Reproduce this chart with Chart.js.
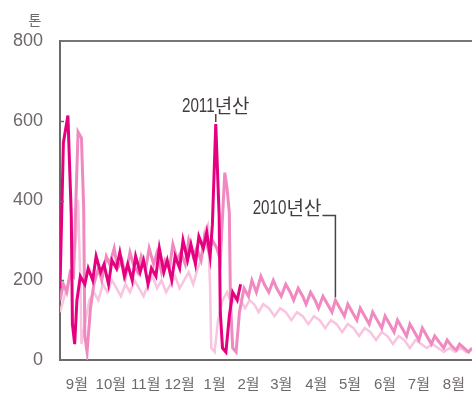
<!DOCTYPE html>
<html lang="ko">
<head>
<meta charset="utf-8">
<title>산지별 출하 물량</title>
<script src="https://cdn.jsdelivr.net/npm/chart.js@4.4.1/dist/chart.umd.min.js"></script>
<style>
  html, body { margin: 0; padding: 0; background: #ffffff; }
  #wrap { width: 473px; height: 393px; }
</style>
</head>
<body>
<div id="wrap"><canvas id="c" width="473" height="393"></canvas></div>
<script>
// 일별 출하량(톤), x 값은 9월 1일부터 센 날짜
const days2011 = [0, 3, 7, 10, 11, 13, 15, 18, 22, 25, 29, 32, 36, 39, 43, 46, 50, 53, 57, 60, 64, 67, 71, 74, 78, 81, 85, 88, 92, 95, 99, 102, 106, 109, 113, 116, 120, 123, 127, 130, 133, 135, 138, 141, 142, 144, 147, 150, 153, 157, 160];
const tons2011 = [180, 545, 613, 362, 90, 40, 150, 210, 190, 230, 200, 260, 220, 240, 190, 250, 230, 270, 210, 240, 200, 260, 220, 250, 190, 230, 210, 280, 220, 250, 200, 260, 230, 300, 250, 290, 240, 310, 280, 320, 260, 340, 592, 362, 120, 30, 20, 110, 170, 150, 190];

const days2010 = [0, 3, 6, 9, 12, 16, 19, 21, 22, 24, 27, 30, 34, 37, 41, 44, 48, 51, 55, 58, 62, 65, 69, 72, 76, 79, 83, 86, 90, 93, 97, 100, 104, 107, 111, 114, 118, 121, 125, 128, 132, 135, 139, 142, 146, 148, 150, 151, 153, 156, 159, 163, 167, 170, 174, 178, 181, 185, 189, 192, 196, 200, 204, 207, 211, 215, 218, 222, 226, 229, 233, 237, 241, 244, 248, 252, 255, 259, 263, 266, 270, 274, 277, 281, 285, 288, 292, 296, 299, 303, 307, 310, 314, 318, 321, 325, 329, 332, 336, 340, 343, 347, 351, 354, 358, 362, 365];
const tons2010 = [150, 190, 170, 220, 210, 572, 557, 380, 60, 20, 130, 190, 230, 200, 260, 240, 280, 230, 250, 210, 270, 240, 220, 260, 230, 280, 240, 270, 220, 250, 230, 290, 250, 270, 240, 300, 260, 280, 250, 310, 270, 300, 280, 250, 470, 430, 370, 150, 30, 20, 120, 180, 160, 200, 170, 210, 190, 170, 200, 180, 160, 190, 170, 150, 180, 160, 140, 170, 150, 130, 160, 140, 120, 150, 130, 110, 140, 120, 100, 130, 110, 90, 120, 100, 80, 110, 90, 70, 100, 80, 60, 90, 70, 50, 80, 60, 40, 60, 45, 30, 50, 35, 25, 40, 30, 20, 30];

const days2009 = [0, 4, 8, 12, 14, 16, 18, 19, 22, 26, 30, 34, 38, 42, 46, 50, 54, 58, 62, 66, 70, 74, 78, 82, 86, 90, 94, 98, 102, 106, 110, 114, 118, 122, 126, 129, 131, 133, 134, 137, 140, 144, 148, 152, 156, 160, 164, 168, 172, 176, 180, 185, 190, 195, 200, 205, 210, 215, 220, 225, 230, 235, 240, 245, 250, 255, 260, 265, 270, 275, 280, 285, 290, 295, 300, 305, 310, 315, 320, 325, 330, 335, 340, 345, 350, 355, 360, 365];
const tons2009 = [120, 160, 200, 230, 300, 402, 200, 40, 90, 150, 170, 150, 190, 170, 200, 180, 160, 190, 170, 200, 180, 160, 190, 210, 180, 200, 170, 190, 210, 180, 200, 220, 190, 230, 260, 330, 340, 180, 30, 20, 100, 150, 170, 140, 160, 150, 130, 150, 140, 120, 140, 130, 110, 130, 120, 100, 120, 110, 90, 110, 100, 80, 100, 90, 70, 90, 80, 60, 80, 70, 50, 70, 60, 40, 60, 50, 30, 50, 40, 30, 40, 30, 20, 30, 20, 30, 20, 25];

const monthLabels = ['9월', '10월', '11월', '12월', '1월', '2월', '3월', '4월', '5월', '6월', '7월', '8월'];
const monthMidDays = [15, 45, 76, 106, 137, 167, 196, 227, 257, 288, 318, 349];
const yTicks = [0, 200, 400, 600, 800];

const seriesNames = ['2011년산', '2010년산', '2009년산'];

const toPoints = (xs, ys) => xs.map((x, i) => ({ x: x, y: ys[i] }));

const INK = '#6e6868';
const LABEL_INK = '#433c3c';
const DIGIT_FONT = '20px "Liberation Sans", Arial, sans-serif';
const HANGUL_FONT = '19px "Noto Sans CJK KR", sans-serif';
const DIGIT_SQUEEZE = 0.76;

// 숫자는 좁은 폭으로, 한글은 그대로 그려 한 줄 라벨을 만든다
function measureLabel(ctx, text) {
  const m = text.match(/^(\d+)(.*)$/);
  ctx.font = DIGIT_FONT;
  const wd = ctx.measureText(m[1]).width * DIGIT_SQUEEZE;
  ctx.font = HANGUL_FONT;
  const wh = ctx.measureText(m[2]).width;
  return { digits: m[1], rest: m[2], wd, wh, w: wd + wh };
}
function drawLabel(ctx, text, left, baseline) {
  const L = measureLabel(ctx, text);
  ctx.save();
  ctx.textAlign = 'left';
  ctx.textBaseline = 'alphabetic';
  ctx.fillStyle = LABEL_INK;
  ctx.translate(left, baseline);
  ctx.scale(DIGIT_SQUEEZE, 1);
  ctx.font = DIGIT_FONT;
  ctx.fillText(L.digits, 0, 0);
  ctx.restore();
  ctx.save();
  ctx.textAlign = 'left';
  ctx.textBaseline = 'alphabetic';
  ctx.fillStyle = LABEL_INK;
  ctx.font = HANGUL_FONT;
  ctx.fillText(L.rest, left + L.wd, baseline + 1);
  ctx.restore();
  return L.w;
}

const annotations = {
  id: 'annotations',
  afterDatasetsDraw(chart) {
    const { ctx, chartArea, scales } = chart;
    const y = scales.y;
    ctx.save();

    // 안쪽으로 향한 눈금
    ctx.strokeStyle = INK;
    ctx.lineWidth = 1.5;
    yTicks.slice(1, -1).forEach(v => {
      const py = Math.round(y.getPixelForValue(v)) + 0.5;
      ctx.beginPath();
      ctx.moveTo(chartArea.left, py);
      ctx.lineTo(chartArea.left + 4, py);
      ctx.stroke();
    });

    // 단위
    ctx.fillStyle = INK;
    ctx.font = '14px "Noto Sans CJK KR", sans-serif';
    ctx.textAlign = 'center';
    ctx.textBaseline = 'middle';
    ctx.fillText('톤', 35, 20);

    // 2011년산: 설 대목 정점 위 라벨
    const meta0 = chart.getDatasetMeta(0);
    const peakIdx = tons2011.indexOf(Math.max(...tons2011.slice(30)));
    const peak = meta0.data[peakIdx];
    ctx.strokeStyle = '#4a4444';
    ctx.lineWidth = 1.5;
    ctx.beginPath();
    ctx.moveTo(peak.x, peak.y - 2);
    ctx.lineTo(peak.x, peak.y - 10);
    ctx.stroke();
    const w0 = measureLabel(ctx, seriesNames[0]).w;
    drawLabel(ctx, seriesNames[0], peak.x - w0 / 2, peak.y - 12);

    // 2010년산: 지시선이 달린 라벨
    const meta1 = chart.getDatasetMeta(1);
    const pIdx = days2010.indexOf(244);
    const p = meta1.data[pIdx];
    const base = y.getPixelForValue(365);
    const w1 = measureLabel(ctx, seriesNames[1]).w;
    drawLabel(ctx, seriesNames[1], p.x - 14 - w1, base);
    ctx.strokeStyle = '#4a4444';
    ctx.beginPath();
    ctx.moveTo(p.x - 13, base + 1);
    ctx.lineTo(p.x, base + 1);
    ctx.lineTo(p.x, p.y - 3);
    ctx.stroke();

    ctx.restore();
  }
};

new Chart(document.getElementById('c'), {
  type: 'line',
  data: {
    datasets: [
      { label: seriesNames[0], data: toPoints(days2011, tons2011), borderColor: '#e4007f', borderWidth: 3 },
      { label: seriesNames[1], data: toPoints(days2010, tons2010), borderColor: '#f089bf', borderWidth: 3 },
      { label: seriesNames[2], data: toPoints(days2009, tons2009), borderColor: '#f8c4df', borderWidth: 2.5 }
    ]
  },
  options: {
    responsive: false,
    devicePixelRatio: 1,
    animation: false,
    layout: { padding: { top: 41, left: 0, right: 0, bottom: 0 } },
    elements: {
      point: { radius: 0 },
      line: { tension: 0, fill: false }
    },
    plugins: { legend: { display: false }, tooltip: { enabled: false } },
    scales: {
      x: {
        type: 'linear',
        min: 0,
        max: 365,
        afterBuildTicks: s => { s.ticks = monthMidDays.map(v => ({ value: v })); },
        afterFit: s => { s.height = 33; },
        ticks: {
          autoSkip: false,
          maxRotation: 0,
          padding: 8,
          color: INK,
          font: { family: '"Liberation Sans", "Noto Sans CJK KR", sans-serif', size: 15 },
          callback: (v, i) => monthLabels[i]
        },
        grid: { display: false },
        border: { display: true, color: INK, width: 2 }
      },
      y: {
        min: 0,
        max: 800,
        afterBuildTicks: s => { s.ticks = yTicks.map(v => ({ value: v })); },
        afterFit: s => { s.width = 60; },
        ticks: {
          padding: 17,
          color: INK,
          font: { family: '"Liberation Sans", sans-serif', size: 18 }
        },
        grid: {
          drawTicks: false,
          lineWidth: 2,
          color: c => (c.tick && c.tick.value === 800 ? '#7a7474' : 'rgba(0,0,0,0)')
        },
        border: { display: true, color: INK, width: 2 }
      }
    }
  },
  plugins: [annotations]
});
</script>
</body>
</html>
